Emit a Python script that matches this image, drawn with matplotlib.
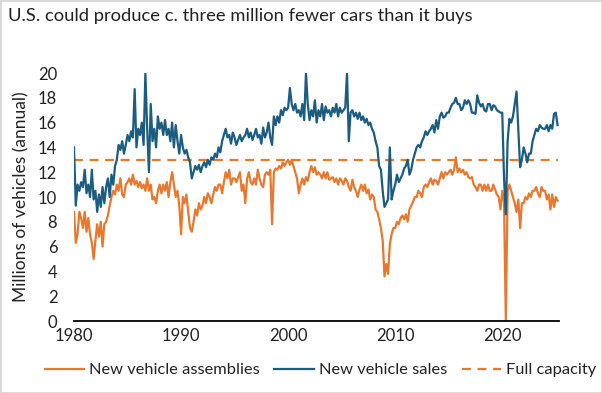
import numpy as np
from matplotlib import pyplot as plt
from matplotlib.lines import Line2D
from matplotlib.patches import Rectangle

plt.switch_backend('agg')

START_YEAR = 1980
PER_YEAR = 6  # bi-monthly readings

# New vehicle sales, millions (annual rate), six readings per year
sales = [
    14.0, 9.3, 11.0, 10.5, 11.2, 10.8,   # 1980
    12.2, 10.3, 11.0, 10.0, 12.2, 9.8,   # 1981
    10.5, 8.8, 10.2, 9.2, 10.8, 9.5,     # 1982
    10.8, 11.5, 10.0, 11.8, 11.0, 12.5,  # 1983
    13.0, 14.2, 13.8, 14.5, 13.5, 14.2,  # 1984
    15.0, 14.5, 15.3, 14.8, 18.7, 14.0,  # 1985
    15.5, 15.0, 16.0, 14.2, 20.0, 15.5,  # 1986
    12.0, 17.5, 14.5, 15.5, 14.0, 16.5,  # 1987
    15.5, 16.0, 15.0, 16.2, 15.0, 15.5,  # 1988
    14.5, 16.0, 14.0, 15.8, 14.5, 13.5,  # 1989
    15.0, 14.0, 13.5, 13.8, 13.2, 12.8,  # 1990
    11.5, 12.0, 12.5, 12.2, 12.6, 12.0,  # 1991
    12.5, 12.8, 12.4, 13.0, 12.6, 13.2,  # 1992
    13.0, 13.5, 13.2, 14.0, 13.6, 14.5,  # 1993
    15.0, 15.5, 14.8, 15.0, 14.3, 15.2,  # 1994
    14.8, 14.2, 14.6, 15.0, 14.5, 14.8,  # 1995
    15.0, 15.5, 14.8, 15.2, 14.6, 15.0,  # 1996
    15.5, 14.8, 15.0, 14.3, 15.6, 14.8,  # 1997
    15.2, 16.0, 14.8, 14.2, 16.5, 15.8,  # 1998
    16.5, 16.0, 17.0, 16.6, 17.2, 17.0,  # 1999
    17.2, 18.8, 17.5, 17.0, 17.5, 16.8,  # 2000
    17.0, 16.5, 17.5, 16.2, 20.0, 17.5,  # 2001
    16.2, 17.0, 16.5, 17.8, 16.0, 17.0,  # 2002
    16.5, 17.5, 16.2, 17.3, 16.8, 17.0,  # 2003
    16.5, 17.2, 16.8, 17.5, 16.5, 17.2,  # 2004
    16.8, 17.0, 17.2, 20.0, 14.5, 16.8,  # 2005
    17.0, 16.5, 16.8, 16.3, 16.8, 16.2,  # 2006
    16.5, 16.0, 16.3, 15.8, 16.0, 15.5,  # 2007
    15.2, 14.5, 14.0, 12.5, 12.2, 10.5,  # 2008
    9.2, 9.5, 9.8, 14.0, 9.8, 10.5,      # 2009
    11.0, 11.8, 11.2, 11.5, 11.8, 12.3,  # 2010
    12.5, 13.0, 11.8, 12.2, 13.0, 13.5,  # 2011
    14.0, 14.2, 14.0, 14.5, 14.8, 15.3,  # 2012
    15.0, 15.3, 15.5, 15.8, 15.2, 16.2,  # 2013
    15.5, 16.5, 16.8, 16.4, 16.5, 16.8,  # 2014
    16.8, 17.2, 17.5, 17.6, 18.0, 17.5,  # 2015
    17.5, 17.0, 17.2, 17.8, 17.5, 17.8,  # 2016
    17.5, 16.8, 16.8, 16.7, 18.2, 17.6,  # 2017
    17.3, 17.5, 17.0, 16.9, 17.5, 17.5,  # 2018
    17.0, 17.4, 17.3, 17.0, 16.9, 16.8,  # 2019
    16.8, 11.5, 8.6, 14.5, 16.3, 16.0,   # 2020
    16.5, 17.5, 18.5, 15.5, 12.4, 13.0,  # 2021
    14.0, 13.5, 12.8, 13.5, 13.5, 14.5,  # 2022
    15.0, 15.5, 15.3, 15.8, 15.6, 15.5,  # 2023
    15.5, 15.8, 15.3, 15.8, 15.5, 16.7,  # 2024
    16.8, 15.8,                          # 2025
]

# New vehicle assemblies, millions (annual rate)
assemblies = [
    8.8, 6.3, 7.0, 8.8, 8.3, 7.5,        # 1980
    8.8, 7.2, 8.3, 7.0, 6.3, 5.0,        # 1981
    6.5, 7.8, 6.8, 8.0, 6.0, 7.8,        # 1982
    8.0, 8.5, 9.3, 10.0, 10.5, 10.2,     # 1983
    11.0, 10.5, 11.5, 10.2, 10.0, 11.0,  # 1984
    11.2, 11.5, 11.0, 11.8, 11.0, 11.3,  # 1985
    10.8, 11.2, 10.7, 11.0, 10.5, 11.5,  # 1986
    10.5, 11.0, 9.8, 10.0, 9.5, 10.5,    # 1987
    11.0, 10.3, 11.0, 10.5, 11.2, 10.0,  # 1988
    11.2, 12.0, 11.0, 10.0, 10.5, 9.3,   # 1989
    7.0, 10.0, 9.5, 10.2, 8.8, 7.5,      # 1990
    7.2, 8.0, 9.0, 8.5, 9.5, 9.0,        # 1991
    9.3, 10.0, 9.5, 10.3, 10.0, 9.5,     # 1992
    10.2, 10.8, 10.5, 11.0, 11.0, 10.3,  # 1993
    11.2, 12.0, 11.5, 12.2, 11.0, 11.5,  # 1994
    11.5, 11.2, 11.6, 12.0, 10.5, 11.0,  # 1995
    9.5, 11.5, 12.0, 11.2, 11.0, 11.5,   # 1996
    11.0, 12.2, 11.5, 11.0, 10.8, 11.8,  # 1997
    12.0, 11.8, 12.2, 7.8, 12.0, 12.3,   # 1998
    12.2, 12.5, 12.3, 12.8, 12.5, 12.8,  # 1999
    13.0, 12.6, 13.0, 12.5, 12.0, 11.5,  # 2000
    10.3, 11.0, 11.5, 11.0, 11.6, 11.3,  # 2001
    12.0, 12.5, 12.0, 12.4, 11.8, 12.0,  # 2002
    11.8, 11.5, 12.0, 11.5, 12.0, 11.4,  # 2003
    11.5, 11.6, 11.2, 11.5, 11.0, 11.5,  # 2004
    11.3, 11.0, 11.5, 11.3, 10.8, 10.5,  # 2005
    11.4, 10.8, 10.5, 10.0, 10.6, 11.0,  # 2006
    10.5, 11.0, 10.3, 10.6, 9.8, 10.2,   # 2007
    10.0, 9.0, 8.8, 8.2, 7.5, 6.5,       # 2008
    3.6, 4.6, 3.8, 6.2, 7.0, 7.5,        # 2009
    7.5, 8.0, 7.8, 8.3, 8.5, 8.2,        # 2010
    8.6, 8.0, 9.0, 9.3, 9.6, 10.0,       # 2011
    10.0, 10.5, 10.3, 10.0, 10.8, 11.0,  # 2012
    10.8, 11.2, 11.5, 11.0, 11.4, 11.3,  # 2013
    11.0, 11.5, 12.0, 11.5, 12.0, 11.8,  # 2014
    12.0, 12.2, 11.8, 12.2, 13.2, 12.0,  # 2015
    12.3, 12.0, 12.2, 11.8, 12.0, 11.6,  # 2016
    11.5, 11.6, 11.0, 10.8, 10.5, 11.0,  # 2017
    11.0, 10.5, 11.0, 10.5, 11.0, 10.5,  # 2018
    10.5, 11.0, 10.6, 10.2, 10.0, 9.0,   # 2019
    10.5, 9.5, 0.0, 10.5, 11.0, 10.5,    # 2020
    10.0, 9.5, 8.8, 9.8, 7.5, 9.5,       # 2021
    9.5, 10.0, 9.8, 10.3, 10.0, 10.5,    # 2022
    10.5, 10.8, 10.3, 10.0, 10.8, 10.5,  # 2023
    10.5, 9.8, 10.2, 9.0, 10.2, 9.2,     # 2024
    10.0, 9.7,                           # 2025
]

full_capacity = 13.0

years = START_YEAR + np.arange(len(sales)) / PER_YEAR

ORANGE = '#E8782E'
BLUE = '#1B5C80'
TEXT = '#222222'
LW = 1.6

plt.rcParams['font.family'] = ['Lato', 'DejaVu Sans']

fig = plt.figure(figsize=(6.02, 3.93), dpi=100)
fig.patches.append(Rectangle((0, 0), 1, 1, transform=fig.transFigure,
                             fill=False, edgecolor='#d8d8d8', linewidth=2))
ax = fig.add_axes([74 / 602, 72 / 393, 485 / 602, 248 / 393])

ax.plot([years[0], years[-1]], [full_capacity, full_capacity], color=ORANGE,
        linestyle=(0, (4, 3)), linewidth=LW)
ax.plot(years, assemblies, color=ORANGE, linewidth=LW)
ax.plot(years, sales, color=BLUE, linewidth=LW)

ax.set_xlim(1980, 2025.3)
ax.set_ylim(0, 20)
ax.set_yticks(range(0, 21, 2))
ax.set_xticks([1980, 1990, 2000, 2010, 2020])
for side in ['left', 'right', 'top']:
    ax.spines[side].set_visible(False)
ax.spines['bottom'].set_color('black')
ax.spines['bottom'].set_linewidth(1.3)
ax.tick_params(length=0, labelsize=12, colors=TEXT)
ax.tick_params(axis='y', pad=12)
ax.tick_params(axis='x', pad=5)
ax.set_ylabel('Millions of vehicles (annual)', fontsize=12.5, color=TEXT, labelpad=6)

fig.text(8 / 602, 1 - 16 / 393, 'U.S. could produce c. three million fewer cars than it buys',
         fontsize=13.2, color=TEXT, va='center', ha='left')

handles = [
    Line2D([], [], color=ORANGE, linewidth=LW),
    Line2D([], [], color=BLUE, linewidth=LW),
    Line2D([], [], color=ORANGE, linewidth=LW, linestyle=(0, (4, 3))),
]
fig.legend(handles, ['New vehicle assemblies', 'New vehicle sales', 'Full capacity'],
           loc='center', bbox_to_anchor=(0.532, 1 - 370 / 393), ncol=3, frameon=False,
           fontsize=11.8, handlelength=2.4, handletextpad=0.3, columnspacing=0.9,
           labelcolor=TEXT)

fig.savefig('out.png', dpi=100)
